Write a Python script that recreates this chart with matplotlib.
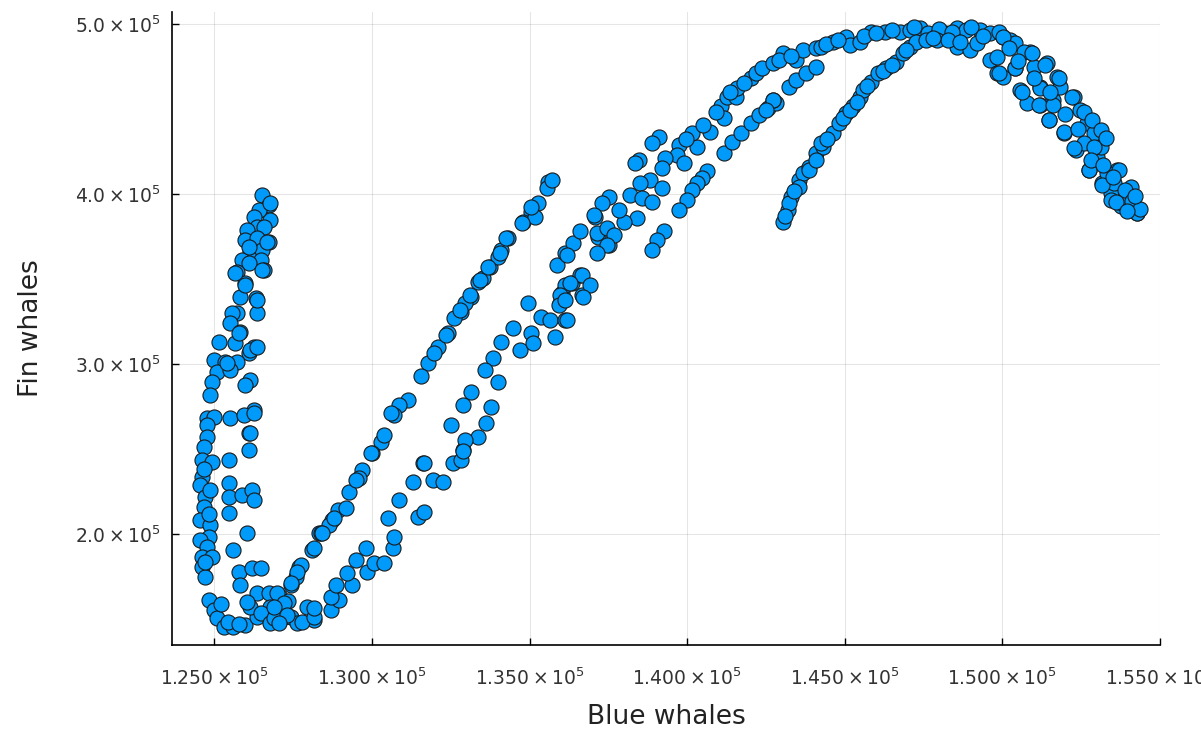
import numpy as np
import matplotlib
matplotlib.use('Agg')
import matplotlib.pyplot as plt
from matplotlib.ticker import FuncFormatter

plt.rcParams['font.family'] = ['DejaVu Sans']
plt.rcParams['mathtext.fontset'] = 'dejavusans'
plt.rcParams['mathtext.default'] = 'regular'

# (blue whales, fin whales), in thousands
left_arm = [
    (126.52, 399.4), (126.73, 393.5), (126.78, 384.7), (126.41, 390.6), (126.25, 386.7),
    (126.36, 380.8), (126.04, 378.8), (126.57, 380.8), (125.99, 372.9), (126.36, 373.9),
    (126.73, 371.9), (126.15, 366.1), (126.52, 367.1), (125.88, 361.2), (126.47, 361.2),
    (126.09, 359.2), (125.72, 354.3), (126.57, 355.3), (125.99, 347.5), (126.31, 338.6),
    (125.83, 339.6), (125.72, 329.8), (125.56, 329.8), (126.36, 329.8), (125.51, 324.0),
    (125.83, 319.0), (125.14, 313.1), (125.67, 312.2), (126.25, 310.2), (126.09, 306.3),
    (124.98, 302.4), (125.35, 301.4), (125.72, 301.4), (125.09, 295.5), (125.51, 296.5),
    (124.93, 289.6), (126.15, 290.6), (125.99, 287.6), (124.87, 281.8), (126.78, 394.5),
    (126.09, 369.0), (126.68, 371.9), (125.67, 353.3), (126.52, 355.3), (125.99, 346.5),
    (126.36, 337.6), (125.77, 318.1), (126.15, 308.2), (126.36, 310.2), (125.40, 300.4),
    (124.77, 268.1), (126.25, 272.9), (126.09, 259.2),
]

left_columns = [
    (124.98, 269.0), (124.77, 264.1), (124.77, 257.3), (124.66, 251.4), (124.61, 243.5),
    (124.93, 242.5), (124.61, 233.7), (124.55, 228.8), (124.71, 221.9), (124.66, 216.1),
    (124.55, 208.2), (124.87, 205.3), (124.82, 198.4), (124.55, 196.5), (124.77, 192.5),
    (124.61, 186.7), (124.93, 186.7), (124.61, 180.8), (124.71, 174.9), (124.66, 238.0),
    (124.82, 212.0), (124.71, 183.5), (124.88, 226.0),
    (125.51, 268.1), (125.93, 270.0), (126.25, 271.0), (126.15, 259.2), (126.09, 249.4),
    (125.46, 243.5), (125.46, 229.8), (125.46, 221.9), (125.88, 222.9), (126.20, 225.9),
    (126.25, 220.0), (125.46, 212.2), (126.04, 200.4), (125.61, 190.6), (125.77, 177.8),
    (125.83, 170.0), (126.20, 179.8), (126.47, 179.8),
]

bottom = [
    (124.82, 161.2), (124.98, 155.3), (125.09, 150.4), (125.30, 145.5), (125.61, 145.5),
    (125.99, 146.5), (126.36, 151.4), (126.36, 165.1), (126.73, 165.1), (126.78, 157.3),
    (127.10, 163.1), (127.21, 151.4), (127.42, 170.0), (127.68, 180.8), (127.58, 174.9),
    (128.11, 190.6), (128.32, 200.4), (127.95, 157.3), (128.16, 149.4), (126.15, 157.3),
    (126.47, 153.3), (126.78, 147.5), (127.42, 151.4), (127.63, 147.5), (125.20, 158.5),
    (125.45, 148.0), (125.80, 147.0), (126.05, 160.0), (126.90, 150.5), (127.35, 160.5),
]

upper_band = [
    (130.29, 254.3), (130.02, 247.5), (129.70, 237.7), (129.60, 232.8), (129.28, 224.9),
    (128.91, 214.1), (129.17, 215.1), (128.75, 208.2), (128.64, 205.3), (128.38, 200.4),
    (128.16, 191.6), (127.74, 181.8), (127.63, 177.8), (127.42, 171.0), (127.00, 165.1),
    (127.21, 159.3), (126.89, 157.3), (127.31, 152.4), (127.05, 147.5),
    (135.60, 407.2), (135.28, 394.5), (135.06, 389.6), (134.80, 383.7), (134.32, 373.9),
    (134.11, 367.1), (133.74, 357.2), (133.53, 350.4), (133.15, 339.6), (132.83, 330.8),
    (132.62, 326.9), (132.41, 318.1), (132.09, 310.2), (131.77, 300.4), (131.56, 292.6),
    (131.14, 278.8), (130.87, 275.9), (130.71, 270.0), (130.39, 258.2), (129.97, 247.5),
    (129.49, 231.8), (128.80, 209.2), (128.43, 200.4), (135.54, 403.4), (135.17, 386.7),
    (134.00, 363.1), (133.37, 348.4), (132.94, 335.7), (131.98, 306.3), (130.61, 271.0),
    (135.70, 408.2), (135.06, 392.5), (134.75, 382.8), (134.27, 373.9), (134.05, 365.1),
    (133.68, 357.2), (133.42, 349.4), (133.10, 340.6), (132.78, 331.8), (132.36, 317.1),
]

lower_band = [
    (127.79, 148.5), (128.16, 151.4), (128.16, 156.3), (128.69, 155.3), (128.96, 161.2),
    (128.69, 163.1), (128.85, 170.0), (129.38, 170.0), (129.22, 176.9), (129.49, 184.7),
    (129.86, 177.8), (129.81, 191.6), (130.07, 182.8), (130.39, 182.8), (130.66, 191.6),
    (130.71, 198.4), (130.50, 209.2), (130.87, 220.0), (131.30, 230.8), (131.45, 210.2),
    (131.66, 213.1), (131.61, 241.6), (131.93, 231.8), (132.25, 230.8), (132.57, 241.6),
    (132.89, 249.4), (132.83, 243.5),
    (135.86, 358.2), (136.12, 365.1), (136.39, 371.0), (136.60, 377.9), (134.95, 335.7),
    (135.38, 327.8), (135.65, 325.9), (136.12, 325.9), (135.81, 316.1), (135.97, 335.7),
    (136.02, 341.6), (136.34, 347.5), (134.48, 321.0), (134.11, 313.1), (133.84, 303.3),
    (134.00, 289.6), (133.58, 296.5), (134.69, 308.2), (135.06, 318.1), (135.11, 312.2),
    (133.15, 283.7), (132.89, 275.9), (133.79, 274.9), (132.52, 264.1), (133.63, 265.1),
    (133.37, 257.3), (132.94, 255.3), (132.89, 248.5), (131.66, 241.6),
    (136.12, 346.5), (136.60, 352.4), (136.66, 340.6), (135.97, 340.6), (135.92, 334.7),
    (137.08, 386.7), (137.18, 374.9), (137.51, 370.0),
]

middle = [
    (141.06, 451.4), (141.17, 444.5), (140.74, 436.6), (140.32, 427.8), (140.16, 435.7),
    (139.73, 428.8), (139.68, 423.0), (139.31, 421.0), (139.90, 418.1), (139.20, 415.1),
    (139.10, 433.7), (138.89, 429.8), (138.46, 420.0), (138.36, 418.1), (138.83, 408.2),
    (138.52, 406.3), (139.20, 403.4), (138.20, 399.4), (138.57, 397.5), (138.89, 395.5),
    (138.41, 385.7), (137.99, 383.7), (137.83, 390.6), (137.51, 398.4), (137.29, 394.5),
    (137.03, 387.7), (137.13, 376.9), (137.45, 379.8), (137.67, 375.9), (137.45, 370.0),
    (137.13, 365.1), (136.18, 364.1), (136.66, 352.4), (136.92, 346.5), (136.71, 339.6),
    (136.28, 347.5), (136.12, 337.6), (136.18, 325.9),
    (140.64, 413.2), (140.48, 409.2), (140.32, 406.3), (140.16, 402.4), (140.00, 396.5),
    (139.73, 390.6), (139.26, 377.9), (139.04, 372.9), (138.89, 367.1),
    (141.17, 423.9), (141.43, 430.8), (141.70, 435.7), (142.02, 441.6), (142.28, 446.5),
    (142.55, 450.4), (142.81, 453.4), (141.27, 457.2), (141.54, 457.2), (142.71, 455.3),
    (141.59, 462.4), (142.01, 468.2), (141.35, 460.0), (141.80, 465.0), (142.20, 471.0),
    (140.90, 448.0), (140.50, 440.5), (139.95, 432.0),
]

top_arc = [
    (142.39, 473.9), (142.71, 476.9), (143.03, 482.8), (143.45, 478.8), (143.66, 484.7),
    (144.09, 485.7), (144.25, 486.6), (144.62, 489.6), (145.04, 492.5), (145.15, 487.6),
    (145.47, 489.6), (145.84, 495.5), (146.27, 495.5), (146.74, 495.5), (147.06, 496.5),
    (147.38, 497.5), (147.65, 494.5), (147.91, 493.5), (148.18, 494.5), (148.55, 497.5),
    (148.86, 496.5), (149.29, 496.5), (149.61, 494.5), (150.03, 492.5), (150.25, 490.6),
    (148.55, 486.6), (148.97, 484.7), (149.18, 488.6),
    (143.24, 463.1), (143.45, 467.1), (143.77, 471.0), (144.09, 474.9), (142.71, 455.3),
    (142.49, 449.4),
    (142.90, 479.0), (143.30, 481.0), (144.40, 488.0), (144.80, 490.5), (145.60, 493.0),
    (146.00, 494.5), (146.50, 496.5), (147.20, 498.0), (148.00, 497.0), (148.40, 495.5),
    (149.00, 498.0), (149.40, 493.0), (149.90, 495.0), (150.40, 488.5),
]

rising_arm = [
    (143.03, 383.7), (143.19, 390.6), (143.29, 398.4), (143.56, 408.2), (143.66, 412.2),
    (143.88, 416.1), (144.09, 423.9), (144.30, 427.8), (144.62, 435.7), (144.83, 441.6),
    (145.04, 447.5), (145.25, 451.4), (145.47, 457.2), (145.57, 461.2), (145.84, 466.1),
    (146.05, 471.0), (146.31, 473.9), (146.63, 477.8), (146.85, 482.8), (147.06, 486.6),
    (147.27, 489.6), (147.59, 490.6), (147.91, 490.6), (148.28, 490.6), (148.65, 489.6),
    (143.24, 394.5), (143.56, 404.0), (143.88, 414.1), (144.09, 420.0), (144.25, 429.8),
    (143.10, 387.0), (143.40, 401.5), (144.45, 432.0), (144.95, 444.5), (145.15, 449.5),
    (145.38, 454.3), (145.70, 463.5), (146.20, 472.5), (146.50, 476.0), (146.95, 484.5),
    (147.80, 491.5),
]

right_arm = [
    (149.61, 478.8), (149.82, 471.0), (150.03, 469.0), (150.41, 473.9), (150.57, 461.2),
    (150.78, 453.4), (150.88, 483.7), (150.99, 474.9), (151.20, 463.1), (151.20, 452.4),
    (151.41, 476.9), (151.47, 443.5), (151.62, 455.3), (151.73, 469.0), (151.94, 435.7),
    (151.84, 463.1), (152.26, 457.2), (152.32, 425.9), (152.47, 449.4), (152.69, 441.6),
    (152.74, 414.1), (152.90, 435.7), (153.01, 421.9), (153.12, 427.8), (153.17, 406.3),
    (153.43, 400.4), (153.65, 414.1), (153.75, 392.6), (153.96, 398.4), (154.18, 392.6),
    (154.28, 388.7), (152.58, 429.8), (153.33, 412.2), (153.54, 406.3),
    (150.03, 492.5), (150.67, 483.7), (150.94, 482.8), (151.36, 475.9), (151.79, 468.1),
    (152.21, 457.2), (152.58, 448.4), (152.85, 443.5), (153.12, 437.6), (153.27, 432.8),
    (150.41, 473.9), (150.62, 460.2), (151.20, 462.2), (151.15, 452.4), (151.62, 452.4),
    (151.47, 443.5), (151.94, 436.6), (152.26, 426.9), (152.74, 414.1), (153.17, 405.3),
    (153.43, 396.5), (153.80, 394.5), (153.69, 414.1), (154.07, 404.3), (154.28, 388.7),
    (149.82, 480.8), (149.88, 471.0), (152.90, 427.8),
    (150.20, 486.0), (150.50, 478.0), (151.00, 468.0), (151.50, 460.0), (152.00, 447.0),
    (152.40, 438.0), (152.80, 420.0), (153.20, 417.0), (153.50, 410.0), (153.90, 402.0),
    (154.10, 396.0), (154.35, 391.0), (153.60, 395.5), (153.95, 390.0), (154.20, 398.5),
]

groups = [left_arm, left_columns, bottom, upper_band, lower_band,
          middle, top_arc, rising_arm, right_arm]
pts = np.array([p for g in groups for p in g]) * 1000
blue = pts[:, 0]
fin = pts[:, 1]

fig = plt.figure(figsize=(12.01, 7.34), dpi=100)
ax = fig.add_axes([0.1432, 0.1213, 0.8227, 0.8624])

ax.scatter(blue, fin, s=118, c='#009AFA', edgecolors='#1a1a1a', linewidths=0.8, zorder=3)

ax.set_xlim(123660, 155000)
ax.set_ylim(134700, 507000)
ax.set_xticks(np.arange(125000, 155001, 5000))
ax.set_yticks([200000, 300000, 400000, 500000])
ax.xaxis.set_major_formatter(FuncFormatter(lambda v, _: f'${v / 1e5:.3f}\\times10^{{5}}$'))
ax.yaxis.set_major_formatter(FuncFormatter(lambda v, _: f'${v / 1e5:.1f}\\times10^{{5}}$'))

ax.grid(True, color='black', alpha=0.1, linewidth=0.8)
ax.set_axisbelow(True)
for side in ['top', 'right']:
    ax.spines[side].set_visible(False)
for side in ['left', 'bottom']:
    ax.spines[side].set_linewidth(1.2)
ax.tick_params(direction='in', length=5, width=1, labelsize=13.5, colors='black',
               labelcolor='#333333')
ax.tick_params(axis='x', pad=16)
ax.tick_params(axis='y', pad=8)

ax.set_xlabel('Blue whales', fontsize=19, color='#222222')
ax.set_ylabel('Fin whales', fontsize=19, color='#222222')
ax.xaxis.set_label_coords(0.5, -0.093)
ax.yaxis.set_label_coords(-0.13, 0.5)

fig.savefig('out.png', dpi=100)
